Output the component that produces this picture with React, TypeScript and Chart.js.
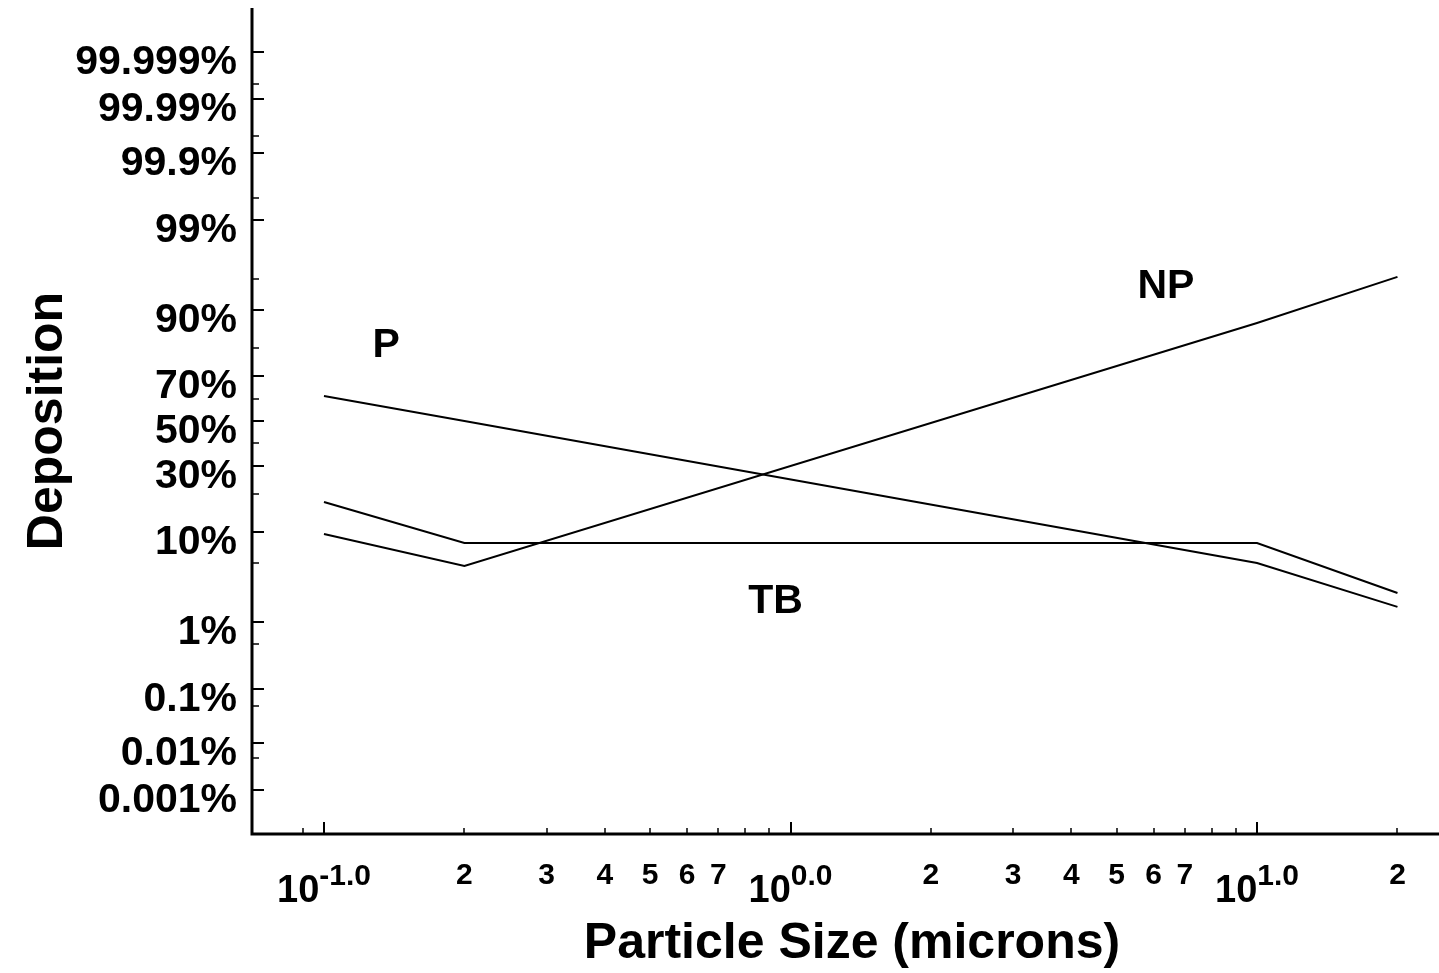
import React, { useEffect, useRef } from "react";
import { Chart, registerables } from "chart.js";

Chart.register(...registerables);

// ---------- data ----------
const particleSizes = [0.1, 0.2, 10, 20];
const pDeposition = [61.4, 50, 5.05, 1.59];
const tbDeposition = [17.5, 7.95, 7.95, 2.35];
const npDeposition = [9.6, 4.7, 87.1, 95.2];

const yMajorTicks = [99.999, 99.99, 99.9, 99, 90, 70, 50, 30, 10, 1, 0.1, 0.01, 0.001];
const yMajorLabels = ["99.999%", "99.99%", "99.9%", "99%", "90%", "70%", "50%", "30%", "10%", "1%", "0.1%", "0.01%", "0.001%"];
const yMinorTicks = [99.995, 99.95, 99.5, 95, 80, 60, 40, 20, 5, 0.5, 0.05, 0.005];

const xMajorTicks = [0.1, 1, 10];
const xMajorExponents = ["-1.0", "0.0", "1.0"];
const xMinorTicks = [0.09, 0.2, 0.3, 0.4, 0.5, 0.6, 0.7, 0.8, 0.9, 2, 3, 4, 5, 6, 7, 8, 9, 20];
const xDigitTicks = [0.2, 0.3, 0.4, 0.5, 0.6, 0.7, 2, 3, 4, 5, 6, 7, 20];
const xDigitLabels = ["2", "3", "4", "5", "6", "7", "2", "3", "4", "5", "6", "7", "2"];

const curveNames = ["P", "NP", "TB"];
const curveLabelX = [0.136, 6.38, 0.929];
const curveLabelY = [81.9, 94.5, 2.05];

const xTitle = "Particle Size (microns)";
const yTitle = "Deposition";

// inverse standard normal CDF (probability scale transform)
function probit(p: number): number {
  const a = [-3.969683028665376e1, 2.209460984245205e2, -2.759285104469687e2, 1.38357751867269e2, -3.066479806614716e1, 2.506628277459239];
  const b = [-5.447609879822406e1, 1.615858368580409e2, -1.556989798598866e2, 6.680131188771972e1, -1.328068155288572e1];
  const c = [-7.784894002430293e-3, -3.223964580411365e-1, -2.400758277161838, -2.549732539343734, 4.374664141464968, 2.938163982698783];
  const d = [7.784695709041462e-3, 3.224671290700398e-1, 2.445134137142996, 3.754408661907416];
  const plow = 0.02425;
  const phigh = 1 - plow;
  let q: number, r: number;
  if (p < plow) {
    q = Math.sqrt(-2 * Math.log(p));
    return (((((c[0] * q + c[1]) * q + c[2]) * q + c[3]) * q + c[4]) * q + c[5]) / ((((d[0] * q + d[1]) * q + d[2]) * q + d[3]) * q + 1);
  }
  if (p <= phigh) {
    q = p - 0.5;
    r = q * q;
    return ((((((a[0] * r + a[1]) * r + a[2]) * r + a[3]) * r + a[4]) * r + a[5]) * q) / (((((b[0] * r + b[1]) * r + b[2]) * r + b[3]) * r + b[4]) * r + 1);
  }
  q = Math.sqrt(-2 * Math.log(1 - p));
  return -(((((c[0] * q + c[1]) * q + c[2]) * q + c[3]) * q + c[4]) * q + c[5]) / ((((d[0] * q + d[1]) * q + d[2]) * q + d[3]) * q + 1);
}

const pz = (percent: number) => probit(percent / 100);

const FONT = "'Liberation Sans', Arial, Helvetica, sans-serif";

const axesPlugin = {
  id: "probAxes",
  afterDraw(chart: any) {
    const ctx = chart.ctx as CanvasRenderingContext2D;
    const xs = chart.scales.x;
    const ys = chart.scales.y;
    const area = chart.chartArea;
    ctx.save();
    ctx.strokeStyle = "#000";
    ctx.fillStyle = "#000";

    // axis lines
    ctx.lineWidth = 3;
    ctx.beginPath();
    ctx.moveTo(area.left, area.top);
    ctx.lineTo(area.left, area.bottom);
    ctx.lineTo(area.right, area.bottom);
    ctx.stroke();

    // y ticks (inward)
    ctx.lineWidth = 2;
    yMajorTicks.forEach((v) => {
      const y = Math.round(ys.getPixelForValue(pz(v)));
      ctx.beginPath();
      ctx.moveTo(area.left, y);
      ctx.lineTo(area.left + 12, y);
      ctx.stroke();
    });
    ctx.lineWidth = 1.5;
    yMinorTicks.forEach((v) => {
      const y = Math.round(ys.getPixelForValue(pz(v)));
      ctx.beginPath();
      ctx.moveTo(area.left, y);
      ctx.lineTo(area.left + 7, y);
      ctx.stroke();
    });

    // x ticks (inward)
    ctx.lineWidth = 2;
    xMajorTicks.forEach((v) => {
      const x = Math.round(xs.getPixelForValue(v));
      ctx.beginPath();
      ctx.moveTo(x, area.bottom);
      ctx.lineTo(x, area.bottom - 12);
      ctx.stroke();
    });
    ctx.lineWidth = 1.5;
    xMinorTicks.forEach((v) => {
      const x = Math.round(xs.getPixelForValue(v));
      ctx.beginPath();
      ctx.moveTo(x, area.bottom);
      ctx.lineTo(x, area.bottom - 6);
      ctx.stroke();
    });

    // y labels
    ctx.font = `bold 41px ${FONT}`;
    ctx.textAlign = "right";
    ctx.textBaseline = "alphabetic";
    yMajorTicks.forEach((v, i) => {
      const y = ys.getPixelForValue(pz(v));
      ctx.fillText(yMajorLabels[i], area.left - 15, y + 22);
    });

    // x digit labels
    ctx.font = `bold 30px ${FONT}`;
    ctx.textAlign = "center";
    xDigitTicks.forEach((v, i) => {
      const x = xs.getPixelForValue(v);
      ctx.fillText(xDigitLabels[i], x, area.bottom + 50);
    });

    // x power labels 10^e
    xMajorTicks.forEach((v, i) => {
      const x = xs.getPixelForValue(v);
      ctx.font = `bold 38px ${FONT}`;
      const wBase = ctx.measureText("10").width;
      ctx.font = `bold 30px ${FONT}`;
      const wSup = ctx.measureText(xMajorExponents[i]).width;
      const left = x - (wBase + wSup) / 2;
      ctx.textAlign = "left";
      ctx.font = `bold 38px ${FONT}`;
      ctx.fillText("10", left, area.bottom + 68);
      ctx.font = `bold 30px ${FONT}`;
      ctx.fillText(xMajorExponents[i], left + wBase, area.bottom + 51);
    });

    // curve labels
    ctx.font = `bold 41px ${FONT}`;
    ctx.textAlign = "center";
    curveNames.forEach((name, i) => {
      const x = xs.getPixelForValue(curveLabelX[i]);
      const y = ys.getPixelForValue(pz(curveLabelY[i]));
      ctx.fillText(name, x, y + 15);
    });

    // x title
    ctx.font = `bold 50px ${FONT}`;
    ctx.textAlign = "center";
    ctx.fillText(xTitle, 852, area.bottom + 124);

    // y title
    ctx.save();
    ctx.translate(62, (area.top + area.bottom) / 2);
    ctx.rotate(-Math.PI / 2);
    ctx.font = `bold 50px ${FONT}`;
    ctx.textAlign = "center";
    ctx.fillText(yTitle, 0, 0);
    ctx.restore();

    ctx.restore();
  },
};

export default function App() {
  const canvasRef = useRef<HTMLCanvasElement | null>(null);

  useEffect(() => {
    document.body.style.margin = "0";
    const canvas = canvasRef.current;
    if (!canvas) return;
    const mk = (vals: number[]) => particleSizes.map((x, i) => ({ x, y: pz(vals[i]) }));
    const lineStyle = {
      borderColor: "#000",
      borderWidth: 2,
      pointRadius: 0,
      fill: false,
      tension: 0,
    };
    const chart = new Chart(canvas, {
      type: "line",
      data: {
        datasets: [
          { label: "P", data: mk(pDeposition), ...lineStyle },
          { label: "TB", data: mk(tbDeposition), ...lineStyle },
          { label: "NP", data: mk(npDeposition), ...lineStyle },
        ],
      },
      options: {
        animation: false,
        responsive: false,
        devicePixelRatio: 1,
        layout: { padding: { left: 252, right: 0, top: 8, bottom: 139 } },
        plugins: { legend: { display: false }, tooltip: { enabled: false } },
        scales: {
          x: { type: "logarithmic", min: 0.0701, max: 24.55, display: false },
          y: { type: "linear", min: -4.77, max: 4.77, display: false },
        },
      },
      plugins: [axesPlugin],
    });
    return () => chart.destroy();
  }, []);

  return (
    <div style={{ width: 1439, height: 973, background: "#fff" }}>
      <canvas ref={canvasRef} width={1439} height={973} style={{ width: 1439, height: 973, display: "block" }} />
    </div>
  );
}
